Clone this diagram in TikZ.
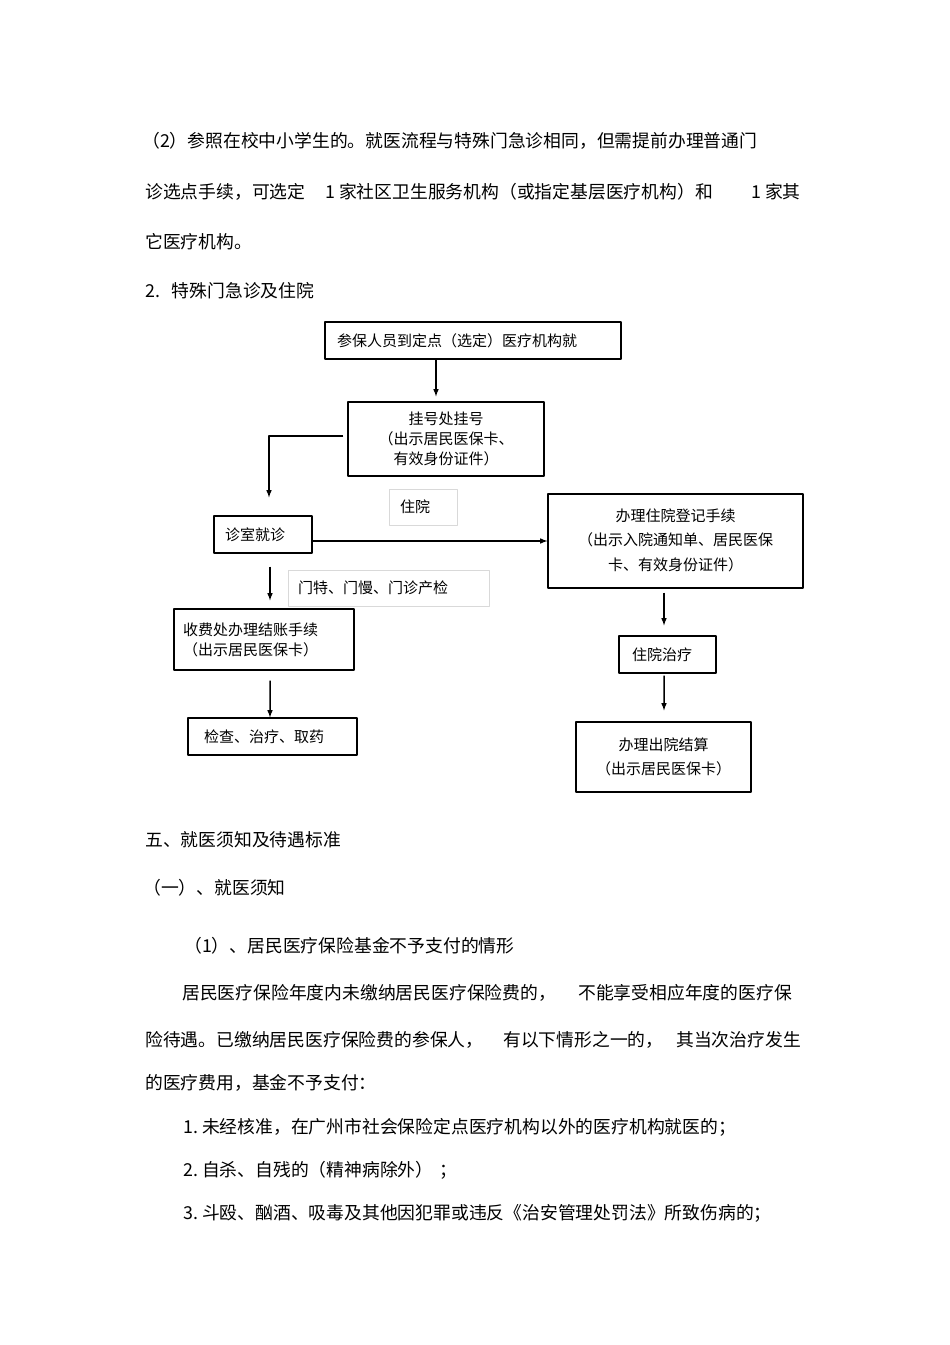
\documentclass[tikz,border=0pt]{standalone}
\usepackage{fontspec}
\setmainfont{Noto Sans CJK SC}
\newcommand{\bodyfont}{\fontsize{17.8bp}{21bp}\selectfont}
\newcommand{\boxfont}{\fontsize{15bp}{20bp}\selectfont}
\tikzset{
  flowbox/.style={draw,line width=1.1bp,inner sep=0pt,font=\boxfont},
  notebox/.style={draw=gray!30,line width=0.6bp,inner sep=0pt,font=\boxfont},
  bodytext/.style={anchor=west,inner sep=0pt,font=\bodyfont},
  link/.style={black,->,line width=1.5bp},
}
\begin{document}
\begin{tikzpicture}[>=latex,line join=bevel,]
\useasboundingbox (0bp,0bp) rectangle (950bp,-1345bp);
%% text above the chart
\node (node_p1) at (142bp,-141bp) [bodytext] {（2）参照在校中小学生的。就医流程与特殊门急诊相同，但需提前办理普通门};
  \node (node_p2a) at (145bp,-192bp) [bodytext] {诊选点手续，可选定};
  \node (node_p2b) at (325bp,-192bp) [bodytext] {1 家社区卫生服务机构（或指定基层医疗机构）和};
  \node (node_p2c) at (751bp,-192bp) [bodytext] {1 家其};
  \node (node_p3) at (145bp,-242bp) [bodytext] {它医疗机构。};
  \node (node_h2) at (145bp,-291bp) [bodytext] {2.\ \ \ 特殊门急诊及住院};
%% flowchart
\node (node_visit) at (473bp,-340.5bp) [flowbox,minimum width=296bp,minimum height=37bp,text width=272bp,align=left] {参保人员到定点（选定）医疗机构就};
  \node (node_reg) at (446bp,-439bp) [flowbox,minimum width=196bp,minimum height=74bp,align=center] {挂号处挂号\\（出示居民医保卡、\\有效身份证件）};
  \node (node_inpat) at (423bp,-507bp) [notebox,minimum width=68bp,minimum height=36bp,text width=46bp,align=left] {住院};
  \node (node_clinic) at (263bp,-534.5bp) [flowbox,minimum width=98bp,minimum height=37bp,text width=76bp,align=left] {诊室就诊};
  \node (node_admit) at (675.5bp,-541bp) [flowbox,minimum width=255bp,minimum height=94bp,align=center,font={\fontsize{15bp}{24.5bp}\selectfont}] {\raisebox{3bp}{办理住院登记手续}\\\raisebox{3bp}{（出示入院通知单、居民医保}\\\raisebox{3bp}{卡、有效身份证件）}};
  \node (node_outpat) at (388.5bp,-588bp) [notebox,minimum width=201bp,minimum height=36bp,text width=181bp,align=left] {门特、门慢、门诊产检};
  \node (node_pay) at (264bp,-639.5bp) [flowbox,minimum width=180bp,minimum height=61bp,text width=162bp,align=left] {收费处办理结账手续\\（出示居民医保卡）};
  \node (node_check) at (272.5bp,-736.5bp) [flowbox,minimum width=169bp,minimum height=37bp,text width=137bp,align=left] {检查、治疗、取药};
  \node (node_treat) at (667.5bp,-654.5bp) [flowbox,minimum width=97bp,minimum height=37bp,text width=71bp,align=left] {住院治疗};
  \node (node_out) at (663.5bp,-757bp) [flowbox,minimum width=175bp,minimum height=70bp,align=center,font={\fontsize{15bp}{24bp}\selectfont}] {办理出院结算\\（出示居民医保卡）};
%
  \draw [link] ([xshift=-37bp]node_visit.south) -- ([xshift=-10bp,yshift=5bp]node_reg.north);
  \draw [link] ([xshift=-4bp,yshift=3bp]node_reg.west) -| ([xshift=6bp,yshift=18bp]node_clinic.north);
  \draw [link] ([yshift=-6.5bp]node_clinic.east) -- ([yshift=-6.5bp]node_clinic.east -| node_admit.west);
  \draw [link] ([xshift=7bp,yshift=-13bp]node_clinic.south) -- ([xshift=6bp,yshift=8bp]node_pay.north);
  \draw [link] ([xshift=6bp,yshift=-10bp]node_pay.south) -- ([xshift=-2.5bp]node_check.north);
  \draw [link] ([xshift=-11.5bp,yshift=-4bp]node_admit.south) -- ([xshift=-3.5bp,yshift=10bp]node_treat.north);
  \draw [link] ([xshift=-3.5bp,yshift=-2bp]node_treat.south) -- ([xshift=0.5bp,yshift=11bp]node_out.north);
%% text below the chart
\node (node_h5) at (145bp,-840bp) [bodytext] {五、就医须知及待遇标准};
  \node (node_h51) at (143bp,-888bp) [bodytext] {（一）、就医须知};
  \node (node_h511) at (184bp,-946bp) [bodytext] {（1）、居民医疗保险基金不予支付的情形};
  \node (node_q1a) at (182bp,-993bp) [bodytext] {居民医疗保险年度内未缴纳居民医疗保险费的，};
  \node (node_q1b) at (578bp,-993bp) [bodytext] {不能享受相应年度的医疗保};
  \node (node_q2a) at (145bp,-1040bp) [bodytext] {险待遇。已缴纳居民医疗保险费的参保人，};
  \node (node_q2b) at (503bp,-1040bp) [bodytext] {有以下情形之一的，};
  \node (node_q2c) at (676bp,-1040bp) [bodytext] {其当次治疗发生};
  \node (node_q3) at (145bp,-1083bp) [bodytext] {的医疗费用，基金不予支付：};
  \node (node_i1) at (183bp,-1127bp) [bodytext] {1.\ 未经核准，在广州市社会保险定点医疗机构以外的医疗机构就医的；};
  \node (node_i2) at (183bp,-1170bp) [bodytext] {2.\ 自杀、自残的（精神病除外）\hspace{6bp}；};
  \node (node_i3) at (183bp,-1213bp) [bodytext] {3.\ 斗殴、酗酒、吸毒及其他因犯罪或违反《治安管理处罚法》所致伤病的；};
%
\end{tikzpicture}
\end{document}
